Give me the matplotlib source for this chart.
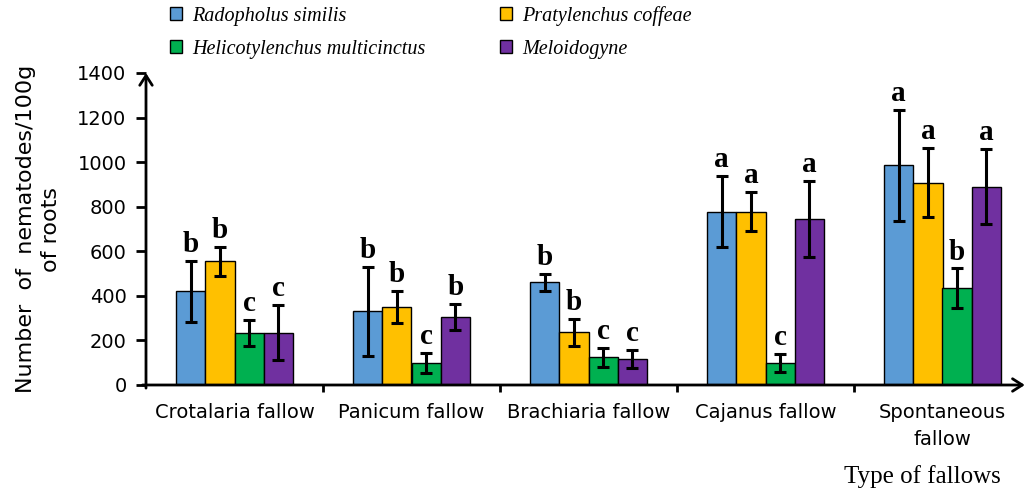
import numpy as np
import matplotlib
matplotlib.use("Agg")
import matplotlib.pyplot as plt
from matplotlib.ticker import FixedLocator

# DATA
fallows = ["Crotalaria fallow", "Panicum fallow", "Brachiaria fallow",
           "Cajanus fallow", "Spontaneous\nfallow"]
species = ["Radopholus similis", "Pratylenchus coffeae",
           "Helicotylenchus multicinctus", "Meloidogyne"]
colors = ["#5B9BD5", "#FFC000", "#00B050", "#7030A0"]

radopholus = [420, 330, 462, 778, 985]
radopholus_err = [137, 200, 38, 158, 250]
pratylenchus = [555, 350, 237, 778, 908]
pratylenchus_err = [65, 70, 60, 88, 155]
helicotylenchus = [235, 100, 125, 100, 435]
helicotylenchus_err = [58, 45, 42, 40, 88]
meloidogyne = [235, 305, 117, 745, 890]
meloidogyne_err = [125, 60, 40, 170, 168]

letters_rad = ["b", "b", "b", "a", "a"]
letters_pra = ["b", "b", "b", "a", "a"]
letters_hel = ["c", "c", "c", "c", "b"]
letters_mel = ["c", "b", "c", "a", "a"]

means = [radopholus, pratylenchus, helicotylenchus, meloidogyne]
errs = [radopholus_err, pratylenchus_err, helicotylenchus_err, meloidogyne_err]
letters = [letters_rad, letters_pra, letters_hel, letters_mel]

fig = plt.figure(figsize=(10.32, 4.97), dpi=100)
ax = fig.add_axes([146/1032, 1 - 385/497, (1031 - 146)/1032, (385 - 73)/497])

x = np.arange(len(fallows))
width = 0.165
handles = []
for i in range(4):
    pos = x + (i - 1.5)*width
    b = ax.bar(pos, means[i], width, color=colors[i], edgecolor="black",
               linewidth=1.0, label=species[i], zorder=2)
    handles.append(b)
    ax.errorbar(pos, means[i], yerr=errs[i], fmt="none", ecolor="black",
                elinewidth=2.2, capsize=4.5, capthick=2.2, zorder=3)
    for p, m, e, l in zip(pos, means[i], errs[i], letters[i]):
        ax.text(p, m + e + 40, l, ha="center", va="baseline",
                fontsize=21, fontweight="bold", family="Liberation Serif")

ax.set_xlim(-0.5, 4.5)
ax.set_ylim(0, 1400)
ax.set_yticks(range(0, 1401, 200))
ax.set_xticks(x)
ax.set_xticklabels(fallows, linespacing=1.5)
ax.xaxis.set_minor_locator(FixedLocator([0.5, 1.5, 2.5, 3.5]))
ax.tick_params(axis="x", which="major", length=0, pad=13, labelsize=14)
ax.tick_params(axis="x", which="minor", length=5, width=2, direction="out")
ax.tick_params(axis="y", length=7, width=2, direction="out", labelsize=14, pad=7)

for s in ["top", "right", "left", "bottom"]:
    ax.spines[s].set_visible(False)

# axes with arrow heads
arrow = dict(arrowstyle="->,head_length=0.7,head_width=0.45", lw=2, color="black",
             shrinkA=0, shrinkB=0)
ax.annotate("", xy=(0, 1.0), xytext=(0, -0.01), xycoords="axes fraction",
            arrowprops=arrow, annotation_clip=False)
ax.annotate("", xy=(0.993, 0), xytext=(-0.004, 0), xycoords="axes fraction",
            arrowprops=arrow, annotation_clip=False)

ax.set_ylabel("Number  of  nematodes/100g\nof roots", fontsize=16, labelpad=12,
              linespacing=1.3)

fig.text(922/1032, 1 - 477/497, "Type of fallows", ha="center", va="center",
         fontsize=18, family="Liberation Serif")

order = [0, 2, 1, 3]
fig.legend(handles=[handles[k] for k in order], labels=[species[k] for k in order],
           ncol=2, loc="upper left",
           bbox_to_anchor=(152/1032, 1.025), frameon=False,
           prop=dict(family="Liberation Serif", style="italic", size=14.5),
           handlelength=0.6, handleheight=0.6, handletextpad=0.5,
           columnspacing=3.7, labelspacing=0.7)

fig.savefig("out.png", dpi=100)
